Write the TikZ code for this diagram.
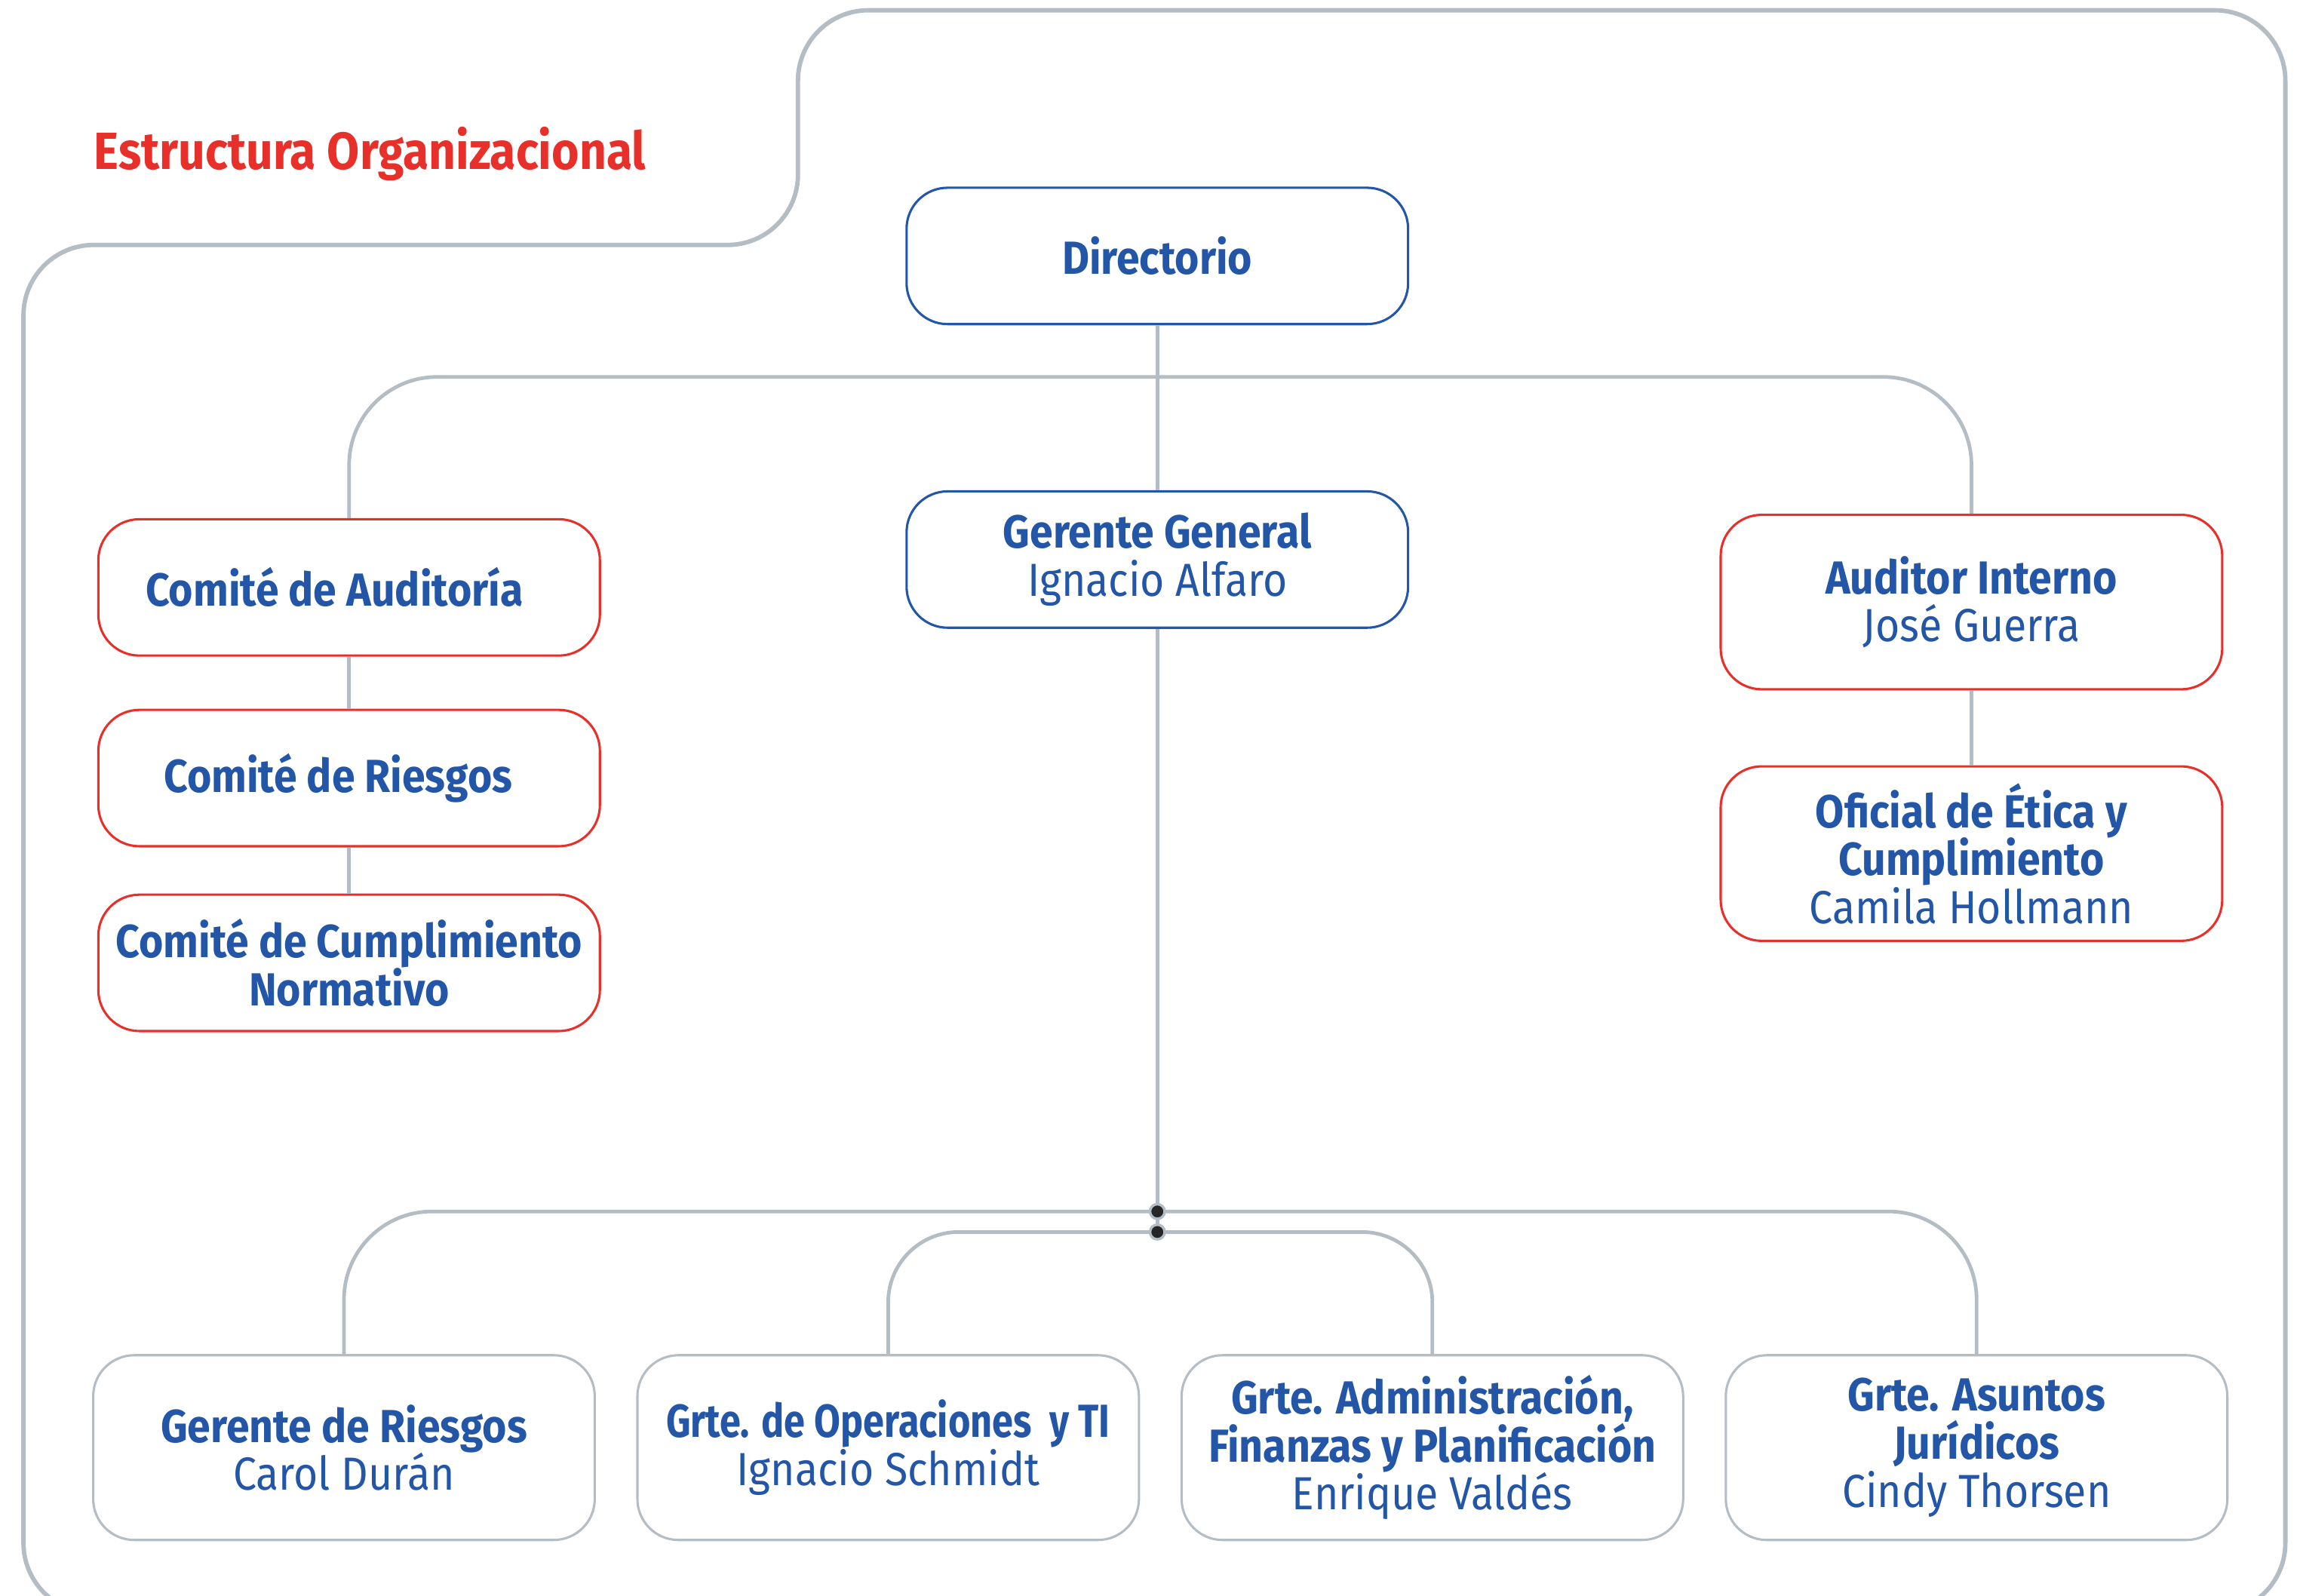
\documentclass[tikz,border=0pt]{standalone}
\usepackage{fontspec}
\setmainfont[FakeStretch=0.9]{Fira Sans}
\newfontfamily\narrowfont[FakeStretch=0.82]{Fira Sans}
\usepackage{xcolor}
\usepackage{tikz}
\usetikzlibrary{positioning}

\definecolor{orgblue}{HTML}{2356A6}
\definecolor{orgred}{HTML}{E8302A}
\definecolor{orggray}{HTML}{B4BCC4}

\begin{document}
\begin{tikzpicture}[x=0.02cm,y=-0.02cm,
  box/.style={draw,rounded corners=0.56cm,line width=0.9pt,fill=white,text=orgblue,align=center,
    minimum width=6.84cm,minimum height=1.86cm,font=\fontsize{18}{18.6}\selectfont},
  board/.style={box,draw=orgblue},
  committee/.style={box,draw=orgred},
  manager/.style={box,draw=orggray,minimum height=2.52cm},
  link/.style={draw=orggray,line width=1.4pt},
  junction/.style={circle,fill=black!85,draw=orggray,line width=1pt,inner sep=0pt,minimum size=0.2cm}]
\useasboundingbox (0,0) rectangle (1568,1088);

% frame with notch
\draw[orggray,line width=1.7pt,rounded corners=0.96cm]
  (16,1100) -- (16,167) -- (544,167) -- (544,7) -- (1558,7) -- (1558,1100) -- cycle;
\node[anchor=west,text=orgred,font=\fontsize{20.3}{24}\selectfont\bfseries] (title) at (58,105) {Estructura Organizacional};

% top level
\node[board] (dir) at (789,174.5) {\textbf{Directorio}};
\node[board] (gg) at (789,381.5) {\textbf{Gerente General}\\Ignacio Alfaro};

% committees and control
\node[committee] (ca) at (238,400.5) {\textbf{Comité de Auditoría}\hspace*{0.4cm}};
\node[committee] (cr) at (238,530.5) {\textbf{Comité de Riesgos}\hspace*{0.3cm}};
\node[committee] (cn) at (238,656.5) {\textbf{Comité de Cumplimiento}\\\textbf{Normativo}};
\node[committee,minimum height=2.38cm] (ai) at (1344,410.5) {\textbf{Auditor Interno}\\José Guerra};
\node[committee,minimum height=2.38cm] (oe) at (1344,582) {\textbf{Oficial de Ética y}\\\textbf{Cumplimiento}\\Camila Hollmann};

% managers
\node[manager] (gr) at (234.5,987) {\textbf{Gerente de Riesgos}\\Carol Durán};
\node[manager] (op) at (605.5,987) {{\narrowfont\textbf{Grte. de Operaciones\ \ y TI}}\\Ignacio Schmidt};
\node[manager] (af) at (976.5,987) {\textbf{Grte. Administración,}\\\textbf{Finanzas y Planificación}\\Enrique Valdés};
\node[manager] (aj) at (1347.5,987) {\textbf{Grte. Asuntos}\\\textbf{Jurídicos}\\Cindy Thorsen};

\coordinate (bus) at (789,257);
\coordinate (j1) at (789,826);
\coordinate (j2) at (789,840);

% connectors
\path[link] (dir) -- (gg);
\path[link,rounded corners=1.2cm] (ca.north) |- (bus) -| (ai.north);
\path[link] (ca) -- (cr);
\path[link] (cr) -- (cn);
\path[link] (ai) -- (oe);
\path[link] (gg) -- (j2);
\path[link,rounded corners=1.2cm] (gr.north) |- (j1) -| (aj.north);
\path[link,rounded corners=0.96cm] (op.north) |- (j2) -| (af.north);
\node[junction] (d1) at (j1) {};
\node[junction] (d2) at (j2) {};
\end{tikzpicture}
\end{document}
